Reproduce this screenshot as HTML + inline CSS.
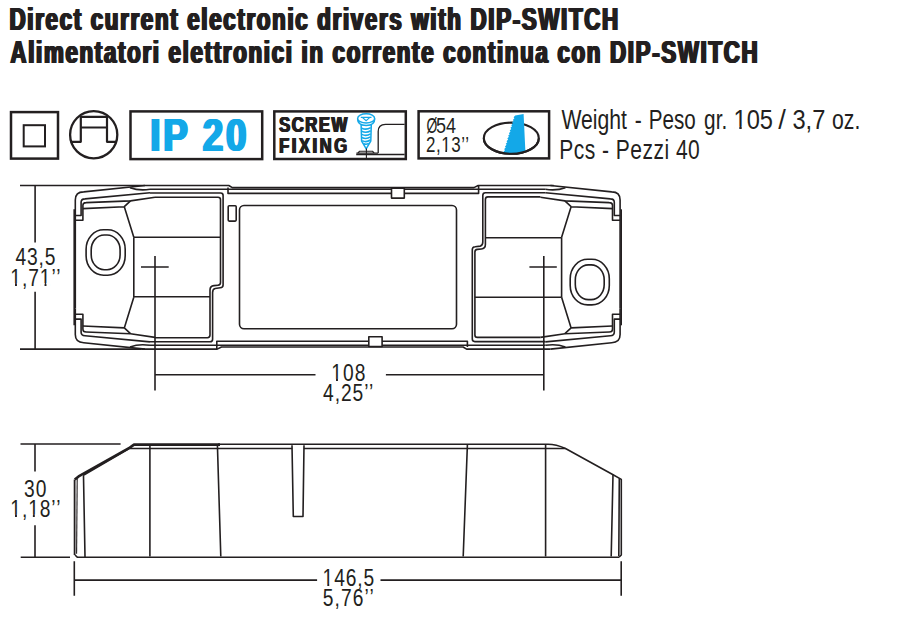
<!DOCTYPE html>
<html><head><meta charset="utf-8">
<style>
html,body{margin:0;padding:0;background:#fff;}
body{width:899px;height:636px;overflow:hidden;}
svg{display:block;}
text{font-family:"Liberation Sans",sans-serif;fill:#231f20;}
.b{font-weight:bold;}
.ln{fill:none;stroke:#231f20;stroke-linejoin:round;stroke-linecap:butt;}
.bx{fill:none;stroke:#231f20;}
</style></head>
<body>
<svg width="899" height="636" viewBox="0 0 899 636">
<g id="t1" transform="scale(0.72,1)"><text class="b" x="11.94" y="29.6" font-size="31" textLength="845.28" lengthAdjust="spacing" style="fill:#231f20">Direct current electronic drivers with DIP-SWITCH</text></g><use href="#t1" x="0.65"/><use href="#t1" x="1.3"/><use href="#t1" x="1.95"/>
<g id="t2" transform="scale(0.72,1)"><text class="b" x="13.06" y="62.7" font-size="31" textLength="1037.92" lengthAdjust="spacing" style="fill:#231f20">Alimentatori elettronici in corrente continua con DIP-SWITCH</text></g><use href="#t2" x="0.65"/><use href="#t2" x="1.3"/><use href="#t2" x="1.95"/>
<g id="ip" transform="scale(0.78,1)"><text class="b" x="190.90" y="151" font-size="47" textLength="123.33" lengthAdjust="spacing" style="fill:#13a8e8">IP 20</text></g><use href="#ip" x="0.9"/><use href="#ip" x="1.8"/><use href="#ip" x="2.6"/>
<g id="sc" transform="scale(0.75,1)"><text class="b" x="371.20" y="131.7" font-size="22.3" textLength="90.93" lengthAdjust="spacing" style="fill:#231f20">SCREW</text></g><use href="#sc" x="0.45"/><use href="#sc" x="0.9"/><use href="#sc" x="1.35"/>
<g id="fx" transform="scale(0.75,1)"><text class="b" x="371.20" y="153" font-size="22.3" textLength="90.80" lengthAdjust="spacing" style="fill:#231f20">FIXING</text></g><use href="#fx" x="0.45"/><use href="#fx" x="0.9"/><use href="#fx" x="1.35"/>
<g id="d1a" transform="scale(0.62,1)"><text class="" x="687.90" y="132.8" font-size="21.2" textLength="17.42" lengthAdjust="spacingAndGlyphs" style="fill:#231f20">Ø</text></g>
<g id="d1b" transform="scale(0.85,1)"><text class="" x="512.94" y="132.8" font-size="21.2" textLength="23.53" lengthAdjust="spacing" style="fill:#231f20">54</text></g>
<g id="d2" transform="scale(0.8,1)"><text class="" x="532.37" y="152.3" font-size="21.2" textLength="53.88" lengthAdjust="spacing" style="fill:#231f20">2,13’’</text><rect x="552.14" y="150.02" width="4.53" height="2.98" fill="#fff"/><rect x="558.84" y="150.02" width="4.51" height="2.98" fill="#fff"/></g>
<g id="w1_0" transform="scale(1.0,1)"><text class="" x="561.40" y="129.4" font-size="27.3" textLength="65.60" lengthAdjust="spacingAndGlyphs" style="fill:#231f20">Weight</text></g>
<g id="w1_1" transform="scale(0.77,1)"><text class="" x="824.42" y="129.4" font-size="27.3" style="fill:#231f20">-</text></g>
<g id="w1_2" transform="scale(1.0,1)"><text class="" x="648.70" y="129.4" font-size="27.3" textLength="47.00" lengthAdjust="spacingAndGlyphs" style="fill:#231f20">Peso</text></g>
<g id="w1_3" transform="scale(1.0,1)"><text class="" x="704.10" y="129.4" font-size="27.3" textLength="23.10" lengthAdjust="spacingAndGlyphs" style="fill:#231f20">gr.</text></g>
<g id="w1_4" transform="scale(1.0,1)"><text class="" x="733.50" y="129.4" font-size="27.3" textLength="39.50" lengthAdjust="spacingAndGlyphs" style="fill:#231f20">105</text><rect x="734.33" y="126.66" width="4.97" height="3.44" fill="#fff"/><rect x="741.70" y="126.66" width="4.93" height="3.44" fill="#fff"/></g>
<g id="w1_5" transform="scale(1.0,1)"><text class="" x="778.20" y="129.4" font-size="27.3" style="fill:#231f20">/</text></g>
<g id="w1_6" transform="scale(1.0,1)"><text class="" x="792.40" y="129.4" font-size="27.3" textLength="32.90" lengthAdjust="spacingAndGlyphs" style="fill:#231f20">3,7</text></g>
<g id="w1_7" transform="scale(1.0,1)"><text class="" x="832.00" y="129.4" font-size="27.3" textLength="28.30" lengthAdjust="spacingAndGlyphs" style="fill:#231f20">oz.</text></g>
<g id="w2" transform="scale(0.77,1)"><text class="" x="726.36" y="158.7" font-size="27.3" textLength="182.47" lengthAdjust="spacing" style="fill:#231f20">Pcs - Pezzi 40</text></g>
<g id="a1" transform="scale(0.8,1)"><text class="" x="19.25" y="265.5" font-size="24" textLength="50.00" lengthAdjust="spacing" style="fill:#231f20">43,5</text></g>
<g id="a2" transform="scale(0.8,1)"><text class="" x="12.87" y="285.5" font-size="24" textLength="62.87" lengthAdjust="spacing" style="fill:#231f20">1,71’’</text><rect x="13.73" y="283.01" width="5.03" height="3.19" fill="#fff"/><rect x="21.18" y="283.01" width="4.99" height="3.19" fill="#fff"/><rect x="50.64" y="283.01" width="5.03" height="3.19" fill="#fff"/><rect x="58.09" y="283.01" width="4.99" height="3.19" fill="#fff"/></g>
<g id="b1" transform="scale(0.8,1)"><text class="" x="414.13" y="381.4" font-size="24" textLength="42.62" lengthAdjust="spacing" style="fill:#231f20">108</text><rect x="414.99" y="378.91" width="5.03" height="3.19" fill="#fff"/><rect x="422.44" y="378.91" width="4.99" height="3.19" fill="#fff"/></g>
<g id="b2" transform="scale(0.8,1)"><text class="" x="403.87" y="401.3" font-size="24" textLength="62.88" lengthAdjust="spacing" style="fill:#231f20">4,25’’</text></g>
<g id="c1" transform="scale(0.8,1)"><text class="" x="30.00" y="497.4" font-size="24" textLength="28.12" lengthAdjust="spacing" style="fill:#231f20">30</text></g>
<g id="c2" transform="scale(0.8,1)"><text class="" x="12.87" y="516.9" font-size="24" textLength="62.75" lengthAdjust="spacing" style="fill:#231f20">1,18’’</text><rect x="13.73" y="514.41" width="5.03" height="3.19" fill="#fff"/><rect x="21.18" y="514.41" width="4.99" height="3.19" fill="#fff"/><rect x="36.06" y="514.41" width="5.03" height="3.19" fill="#fff"/><rect x="43.51" y="514.41" width="4.99" height="3.19" fill="#fff"/></g>
<g id="e1" transform="scale(0.8,1)"><text class="" x="403.25" y="586.5" font-size="24" textLength="64.50" lengthAdjust="spacing" style="fill:#231f20">146,5</text><rect x="404.11" y="584.01" width="5.03" height="3.19" fill="#fff"/><rect x="411.56" y="584.01" width="4.99" height="3.19" fill="#fff"/></g>
<g id="e2" transform="scale(0.8,1)"><text class="" x="403.50" y="606" font-size="24" textLength="63.75" lengthAdjust="spacing" style="fill:#231f20">5,76’’</text></g>
<!-- Icon 1: double square -->
<rect class="bx" stroke-width="2.5" x="11" y="112.1" width="47" height="46.5"/>
<rect class="bx" x="23.7" y="125.2" width="21.3" height="21.2" stroke-width="2"/>
<!-- Icon 2: circle -->
<circle class="bx" cx="93.7" cy="134.7" r="23.6" stroke-width="2.3"/>
<path class="ln" stroke-width="2.2" d="M70.5,141.8 H80.8 V116.8 H107 V141.8 H116.8 M80.8,127.5 H107"/>
<!-- IP 20 box -->
<rect class="bx" stroke-width="2.5" x="130.5" y="111.4" width="131.7" height="47.7"/>
<!-- Screw fixing box -->
<rect class="bx" stroke-width="2.5" x="274.3" y="111.4" width="131.5" height="47.6"/>
<!-- Dia box -->
<rect class="bx" stroke-width="2.5" x="418.6" y="111.3" width="130.5" height="47.1"/>

<g fill="none" stroke="#13a8e8" stroke-width="1.5">
 <path fill="#fff" d="M361.1,124.5 L361.6,141 L366.2,148.8 L370.8,141 L371.3,124.5 Z"/>
 <path stroke-width="1.6" d="M361.7,128.2 Q366.2,130.4 370.7,127.6 M361.8,131.3 Q366.2,133.5 370.7,130.7 M361.9,134.4 Q366.2,136.6 370.6,133.8 M362,137.5 Q366.2,139.7 370.5,136.9 M362.2,140.6 Q366.2,142.8 370.3,140 M363.8,143.8 Q366.2,145 368.8,143.4"/>
 <path fill="#fff" d="M357.6,118.8 Q357.6,125.5 366.2,125.5 Q374.7,125.5 374.7,118.8"/>
 <ellipse fill="#fff" cx="366.15" cy="118.4" rx="8.5" ry="4.6"/>
 <path stroke-width="1.2" d="M360.8,117.4 H371.5 M362.6,117.6 L366.1,120.6 L369.6,117.6"/>
</g>
<g fill="none" stroke="#231f20">
 <path stroke-width="1.6" d="M356.2,154.5 H404.6"/>
 <path stroke-width="1.1" d="M356.4,153.1 H378.2 M357.6,153.1 L359.5,151.3 H372.6 L374.4,153.1 M366.4,148.6 V158"/>
 <path stroke-width="1.3" d="M378.2,153.1 V131.5 Q378.2,124.3 385.5,124.3 H404.6"/>
</g>
<ellipse cx="511.3" cy="138.2" rx="27.5" ry="15.6" fill="none" stroke="#231f20" stroke-width="2.1"/>
<path fill="#13a8e8" d="M525.4,151.8 L523.6,113.9 L515.20,115.60 L513.61,117.23 L514.41,118.26 L512.82,119.89 L513.63,120.91 L512.04,122.54 L512.84,123.57 L511.25,125.20 L512.06,126.23 L510.46,127.86 L511.27,128.89 L509.68,130.51 L510.49,131.54 L508.89,133.17 L509.70,134.20 L508.11,135.83 L508.91,136.86 L507.32,138.49 L508.13,139.51 L506.54,141.14 L507.34,142.17 L505.75,143.80 L506.56,144.83 L504.96,146.46 L505.77,147.49 L504.18,149.11 L504.99,150.14 L503.39,151.77 L504.20,152.80 Q514.8,155 525.4,151.8 Z"/>
<path d="M483.8,138.2 A27.5,15.6 0 0 0 538.8,138.2" fill="none" stroke="#231f20" stroke-width="2.1"/>


<!-- ===== TOP VIEW ===== -->
<g class="ln" stroke-width="1.6">
<!-- ext lines & dims -->
<path d="M20,185.5 H145 M20,349.1 H141.7"/>
<path d="M35.1,185.5 V242.4 M35.1,291.7 V349.1"/>
<g id="lhalf">
 <g id="q">
  <path d="M75.3,226 V200 Q75.3,192 83.7,191.9 L145,185.5"/>
  <path d="M130,187.7 Q139,191 150,189.3"/>
  <path d="M75.3,215.5 H81.1 V202.3 Q81.1,199 85,198.9 L150,192.7"/>
  <path d="M75.3,220.3 H82.9 V205.3 Q82.9,202.6 86.1,202.6 L130.5,200.9 L155,197.2"/>
  <path d="M82.9,208.6 L124.3,206.7 L130.5,200.9 M124.3,206.7 L133.8,237.3"/>
 </g>
 <use href="#q" transform="matrix(1,0,0,-1,0,534.6)"/>
 <path stroke-width="1.6" d="M74.2,209.3 V325.3"/>
 <path d="M75.3,226 V308.6 M133.8,237.3 V297.3"/>
 <!-- top/bottom middle lines -->
 <!-- chamber -->
 <path d="M150,193 H220.6 Q223.1,193 223.1,195.5 V285 Q223.1,287.5 220.2,287.8 L215.2,288.5 Q212.6,289 212.6,292.5 V339.2 Q212.6,341.8 210,341.8 H150"/>
 <path d="M155,197.2 H218 Q220.5,197.2 220.5,199.7 V282.5 Q220.5,285 218,285.2 L214,285.6 Q210,286 210,290 V335.1 Q210,337.7 207.5,337.7 H155"/>
 <path d="M133.8,237.3 H220.5 M133.8,296.8 H210"/>
 <!-- hole -->
 <rect x="86.1" y="229.7" width="39.1" height="45.6" rx="17.5" ry="19.5"/>
 <rect x="91.2" y="235" width="28.9" height="34.7" rx="13" ry="15"/>
</g>
<use href="#lhalf" transform="rotate(180,347.7,267.3)"/>
<path d="M145,185.5 H228.8 L232.3,187.6 H473.9 L478.2,185.5 H553.7"/>
<path d="M150,189.3 H545.4"/>
<path d="M228,187.6 V193.4 H478.6 V185.5"/>
<path d="M141.7,349.1 H217.2 L221.5,347 H463.1 L466.6,349.1 H550.4"/>
<path d="M150,345.3 H545.4"/>
<path d="M216.8,349.1 V341.2 H467.4 V347"/>
<!-- label rect etc -->
<rect x="239.5" y="205.5" width="217" height="123.3" rx="4.5"/>
<rect x="228.2" y="205.8" width="8" height="15.3" rx="1"/>
<rect x="391.5" y="188.3" width="12.8" height="9.8" fill="#fff"/>
<rect x="368.8" y="336.7" width="13.3" height="9.8" fill="#fff"/>
<!-- crosshairs / dims -->
<path d="M155,256 V390.5 M141,267 H168.7 M543.8,256 V390.5 M529.4,267 H556.8"/>
<path d="M155,374.8 H315.5 M385.9,374.8 H543.8"/>
</g>

<!-- ===== SIDE VIEW ===== -->
<g class="ln" stroke-width="1.6">
<path d="M20.5,444 H120.6 M35,444 V471.6 M35,525.3 V557.3 M20.7,557.3 H70"/>
<path stroke-width="1.8" d="M74.6,555 V479.5"/><path stroke-width="2.6" d="M74.8,479.6 L78.6,476.4 L129.8,447.6 L134,444.6 H220"/>
<path d="M218,444.3 H548 Q556,444.3 565.5,448.5 L612.2,474.2 L621.3,479.4 V555 L619,557.3"/>
<path d="M83,475.5 L129.2,448.5 H292.2 M303.8,448.5 H565.5"/>
<path d="M83.5,476 L85,557 M75,555 L77.5,557.3 H619"/><path stroke-width="1.1" d="M77.2,478.5 L76.6,553.8"/>
<path d="M149.9,446 V556.6 M217.4,444.8 L220.8,556.6 M292,445.3 L293.3,516.5 H303 L304,445.3 M467.4,444.8 L463.2,556.5 M545.6,444.8 V556.5 M613,474.6 L611.2,556.5 M619.3,478.5 L618.8,556"/>
<path d="M74.3,561.2 V595.7 M621.2,561.2 V595.7 M74.3,580.1 H317.1 M380.5,580.1 H621.2"/>
</g>


</svg>
</body></html>
